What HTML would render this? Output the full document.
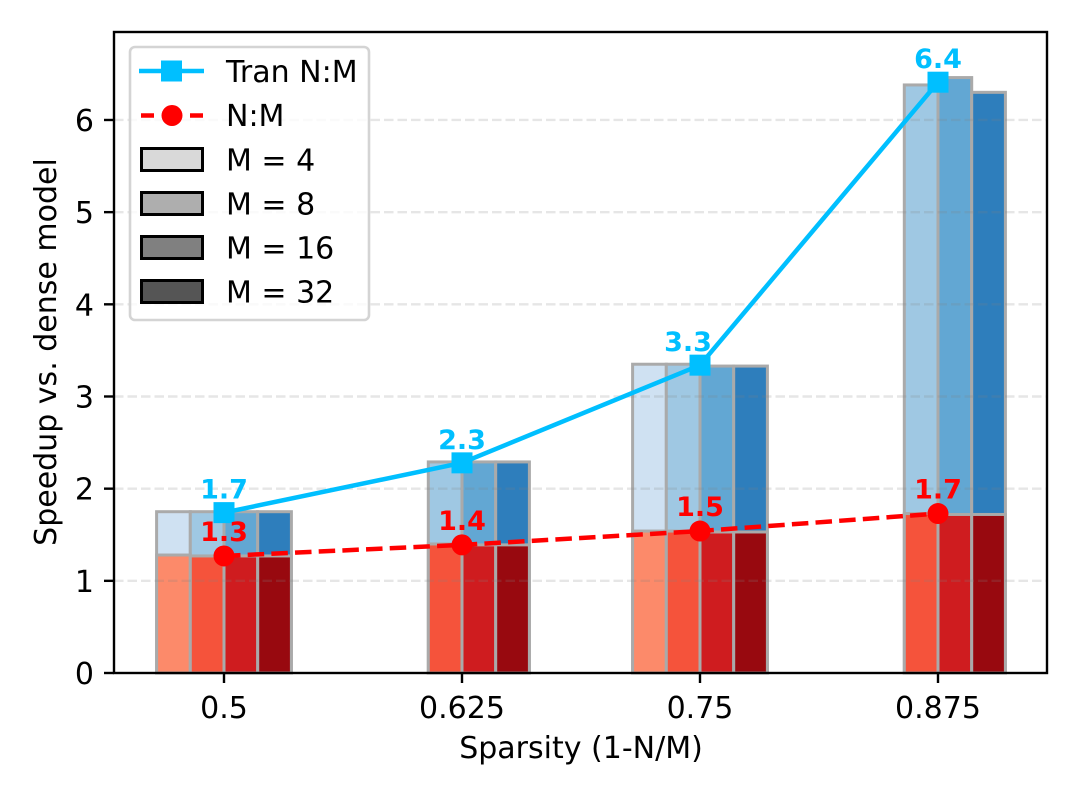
<!DOCTYPE html>
<html>
<head>
<meta charset="utf-8">
<style>
html,body{margin:0;padding:0;background:#fff;}
svg{display:block;}
text{font-family:"DejaVu Sans",sans-serif;font-size:30px;fill:#000;}
</style>
</head>
<body>
<svg id="chart" width="1080" height="799" viewBox="0 0 1080 799" xmlns="http://www.w3.org/2000/svg"></svg>
<script>
const categories = ['0.5', '0.625', '0.75', '0.875'];
const mLabels = ['M = 4', 'M = 8', 'M = 16', 'M = 32'];
const yTicks = [0, 1, 2, 3, 4, 5, 6];
const tranBarsM4 = [1.75, 0, 3.35, 0];
const tranBarsM8 = [1.75, 2.29, 3.35, 6.38];
const tranBarsM16 = [1.75, 2.29, 3.33, 6.46];
const tranBarsM32 = [1.75, 2.29, 3.33, 6.30];
const nmBarsM4 = [1.28, 0, 1.54, 0];
const nmBarsM8 = [1.27, 1.40, 1.54, 1.73];
const nmBarsM16 = [1.27, 1.39, 1.53, 1.72];
const nmBarsM32 = [1.27, 1.39, 1.53, 1.72];
const tranLine = [1.74, 2.28, 3.34, 6.41];
const nmLine = [1.27, 1.39, 1.54, 1.73];

const tranSeries = [tranBarsM4, tranBarsM8, tranBarsM16, tranBarsM32];
const nmSeries = [nmBarsM4, nmBarsM8, nmBarsM16, nmBarsM32];
const blues = ['#cfe1f2', '#9fc8e3', '#62a7d3', '#2e7ebc'];
const reds = ['#fc8a6a', '#f5533b', '#cf1c1f', '#98090f'];
const grays = ['#d9d9d9', '#aeaeae', '#808080', '#555555'];

const NS = 'http://www.w3.org/2000/svg';
const svg = document.getElementById('chart');
const plot = {left: 114, right: 1047, top: 32, bottom: 673};
const xScale = i => 224 + i * 238;
const yScale = v => 673 - v * 92.17;
const barW = 33.7;

function mk(tag, attrs, txt) {
  const el = document.createElementNS(NS, tag);
  for (const k in attrs) el.setAttribute(k, attrs[k]);
  if (txt !== undefined) el.textContent = txt;
  svg.appendChild(el);
  return el;
}

let el;
el = mk('rect', {x: 0, y: 0, width: 1080, height: 799, fill: '#fff'});



function drawBars(seriesList, colors) {
  seriesList.forEach((vals, m) => {
    vals.forEach((v, i) => {
      const x = xScale(i) + (m - 2) * barW;
      const b = mk('rect', {x: x, y: yScale(v), width: barW, height: yScale(0) - yScale(v), fill: colors[m], stroke: '#aaaaaa', 'stroke-width': 3});
      
      
    });
  });
}
drawBars(tranSeries, blues);
drawBars(nmSeries, reds);

yTicks.forEach(t => {
  if (t === 0) return;
  const g = mk('line', {x1: plot.left, x2: plot.right, y1: yScale(t), y2: yScale(t), stroke: '#808080', 'stroke-opacity': 0.2, 'stroke-width': 2.4, 'stroke-dasharray': '9.5 4'});
  
  
});

el = mk('polyline', {points: tranLine.map((v, i) => xScale(i) + ',' + yScale(v)).join(' '), fill: 'none', stroke: '#00bfff', 'stroke-width': 4.5});



el = mk('polyline', {points: nmLine.map((v, i) => xScale(i) + ',' + yScale(v)).join(' '), fill: 'none', stroke: '#ff0000', 'stroke-width': 4.5, 'stroke-dasharray': '16.5 7.2'});



tranLine.forEach((v, i) => {
  const p = mk('rect', {x: xScale(i) - 10.5, y: yScale(v) - 10.5, width: 21, height: 21, fill: '#00bfff'});
  
  
  const labelShift = i === 2 ? -12 : 0;
  const l = mk('text', {x: xScale(i) + labelShift, y: yScale(v) - 14, 'text-anchor': 'middle', style: 'font-weight:bold;font-size:27px;fill:#00bfff'}, v.toFixed(1));
  
  
});
nmLine.forEach((v, i) => {
  const p = mk('circle', {cx: xScale(i), cy: yScale(v), r: 10.5, fill: '#ff0000'});
  
  
  const l = mk('text', {x: xScale(i), y: yScale(v) - 15, 'text-anchor': 'middle', style: 'font-weight:bold;font-size:27px;fill:#ff0000'}, v.toFixed(1));
  
  
});

el = mk('rect', {x: plot.left, y: plot.top, width: plot.right - plot.left, height: plot.bottom - plot.top, fill: 'none', stroke: '#000', 'stroke-width': 2.4});



yTicks.forEach(t => {
  const k = mk('line', {x1: plot.left - 10, x2: plot.left, y1: yScale(t), y2: yScale(t), stroke: '#000', 'stroke-width': 2.4});
  
  
  const l = mk('text', {x: 94, y: yScale(t) + 11, 'text-anchor': 'end'}, String(t));
  
  
});
categories.forEach((c, i) => {
  const k = mk('line', {x1: xScale(i), x2: xScale(i), y1: plot.bottom, y2: plot.bottom + 10, stroke: '#000', 'stroke-width': 2.4});
  
  
  const l = mk('text', {x: xScale(i), y: 718, 'text-anchor': 'middle'}, c);
  
  
});

el = mk('text', {x: 581, y: 758, 'text-anchor': 'middle'}, 'Sparsity (1-N/M)');



el = mk('text', {x: 0, y: 0, 'text-anchor': 'middle', transform: 'translate(56,352) rotate(-90)'}, 'Speedup vs. dense model');



el = mk('rect', {x: 130, y: 47, width: 239, height: 273, rx: 5, ry: 5, fill: '#fff', 'fill-opacity': 0.8, stroke: '#d4d4d4', 'stroke-width': 2.6});



el = mk('line', {x1: 139, x2: 204, y1: 71, y2: 71, stroke: '#00bfff', 'stroke-width': 4.5});


el = mk('rect', {x: 161, y: 60.5, width: 21, height: 21, fill: '#00bfff'});


el = mk('text', {x: 226, y: 82}, 'Tran N:M');



el = mk('line', {x1: 141, x2: 203, y1: 115.5, y2: 115.5, stroke: '#ff0000', 'stroke-width': 4.5, 'stroke-dasharray': '13 36 13'});


el = mk('circle', {cx: 172, cy: 115.5, r: 10.5, fill: '#ff0000'});


el = mk('text', {x: 226, y: 126}, 'N:M');



mLabels.forEach((label, m) => {
  const top = 148.5 + m * 44;
  const s = mk('rect', {x: 141.5, y: top, width: 61, height: 22, fill: grays[m], stroke: '#000', 'stroke-width': 3});
  
  
  const t = mk('text', {x: 226, y: top + 22}, label);
  
  
});
</script>
</body>
</html>
